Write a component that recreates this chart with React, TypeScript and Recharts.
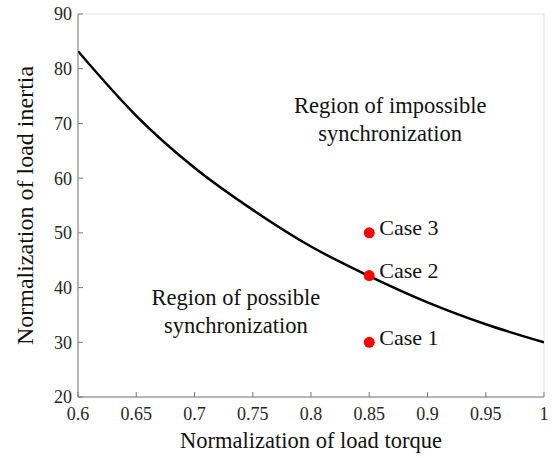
import React from "react";
import {
  ComposedChart,
  Line,
  Scatter,
  XAxis,
  YAxis,
  CartesianGrid,
  ReferenceDot,
} from "recharts";

const torque = [0.6, 0.65, 0.7, 0.75, 0.8, 0.85, 0.9, 0.95, 1.0];
const inertia = [83.2, 71.4, 61.9, 54.2, 47.5, 42.1, 37.3, 33.3, 30.0];

const caseNames = ["Case 1", "Case 2", "Case 3"];
const caseTorque = [0.85, 0.85, 0.85];
const caseInertia = [30, 42.2, 50];

const xTicks = [0.6, 0.65, 0.7, 0.75, 0.8, 0.85, 0.9, 0.95, 1];
const yTicks = [20, 30, 40, 50, 60, 70, 80, 90];

const regionTexts = [
  { x: 0.868, y: 70.6, lines: ["Region of impossible", "synchronization"] },
  { x: 0.7356, y: 35.5, lines: ["Region of possible", "synchronization"] },
];

const curveData = torque.map((t, i) => ({ t, j: inertia[i] }));
const caseData = caseNames.map((name, i) => ({
  t: caseTorque[i],
  j: caseInertia[i],
  name,
}));

const FONT = "'Liberation Serif', 'Times New Roman', serif";
const AXIS_COLOR = "#7a7a7a";
const TEXT_COLOR = "#262626";

const CaseShape = (props: any) => {
  const { cx, cy, payload } = props;
  if (cx == null || cy == null) return null;
  return (
    <g>
      <circle cx={cx} cy={cy} r={5.5} fill="#ff0000" />
      <text
        x={cx + 10}
        y={cy - 5}
        fontFamily={FONT}
        fontSize={22}
        fill="#111"
        dominantBaseline="central"
      >
        {payload.name}
      </text>
    </g>
  );
};

const RegionLabel = (lines: string[]) => (props: any) => {
  const vb = props.viewBox || {};
  const cx = (vb.x ?? 0) + (vb.width ?? 0) / 2;
  const cy = (vb.y ?? 0) + (vb.height ?? 0) / 2;
  return (
    <text
      x={cx}
      y={cy}
      fontFamily={FONT}
      fontSize={22.5}
      fill="#111"
      textAnchor="middle"
    >
      <tspan x={cx} dy="-0.3em">
        {lines[0]}
      </tspan>
      <tspan x={cx} dy="1.22em">
        {lines[1]}
      </tspan>
    </text>
  );
};

const EmptyTick = () => <g />;

export default function App() {
  return (
    <div style={{ position: "absolute", left: 0, top: 0 }}>
      <ComposedChart
        width={552}
        height={458}
        margin={{ top: 14, right: 8, bottom: 0, left: 0 }}
      >
        <CartesianGrid stroke="#e3e3e3" strokeWidth={1} />
        <XAxis
          xAxisId="b"
          dataKey="t"
          type="number"
          domain={[0.6, 1]}
          ticks={xTicks}
          allowDataOverflow
          height={61}
          stroke={AXIS_COLOR}
          tickSize={-5}
          tickMargin={15}
          tick={{ fill: TEXT_COLOR, fontSize: 18, fontFamily: FONT }}
          tickFormatter={(v: number) => String(v)}
          label={{
            value: "Normalization of load torque",
            position: "insideBottom",
            offset: 10,
            style: { fill: "#111", fontSize: 22.5, fontFamily: FONT },
          }}
        />
        <XAxis
          xAxisId="t"
          orientation="top"
          type="number"
          domain={[0.6, 1]}
          ticks={xTicks}
          allowDataOverflow
          height={0}
          stroke={AXIS_COLOR}
          tickSize={-5}
          tick={EmptyTick}
        />
        <YAxis
          yAxisId="l"
          type="number"
          domain={[20, 90]}
          ticks={yTicks}
          allowDataOverflow
          width={78}
          stroke={AXIS_COLOR}
          tickSize={-5}
          tickMargin={11}
          tick={{ fill: TEXT_COLOR, fontSize: 18, fontFamily: FONT }}
          label={{
            value: "Normalization of load inertia",
            angle: -90,
            position: "insideLeft",
            offset: 24,
            style: { fill: "#111", fontSize: 24, fontFamily: FONT, textAnchor: "middle" },
          }}
        />
        <YAxis
          yAxisId="r"
          orientation="right"
          type="number"
          domain={[20, 90]}
          ticks={yTicks}
          allowDataOverflow
          width={0}
          stroke={AXIS_COLOR}
          tickSize={-5}
          tick={EmptyTick}
        />
        <Line
          xAxisId="b"
          yAxisId="l"
          data={curveData}
          dataKey="j"
          type="monotone"
          stroke="#000"
          strokeWidth={2.5}
          dot={false}
          activeDot={false}
          isAnimationActive={false}
        />
        <Scatter
          xAxisId="b"
          yAxisId="l"
          data={caseData}
          dataKey="j"
          shape={CaseShape}
          isAnimationActive={false}
        />
        {regionTexts.map((r, i) => (
          <ReferenceDot
            key={i}
            xAxisId="b"
            yAxisId="l"
            x={r.x}
            y={r.y}
            r={0}
            fill="none"
            stroke="none"
            label={RegionLabel(r.lines)}
          />
        ))}
      </ComposedChart>
    </div>
  );
}
